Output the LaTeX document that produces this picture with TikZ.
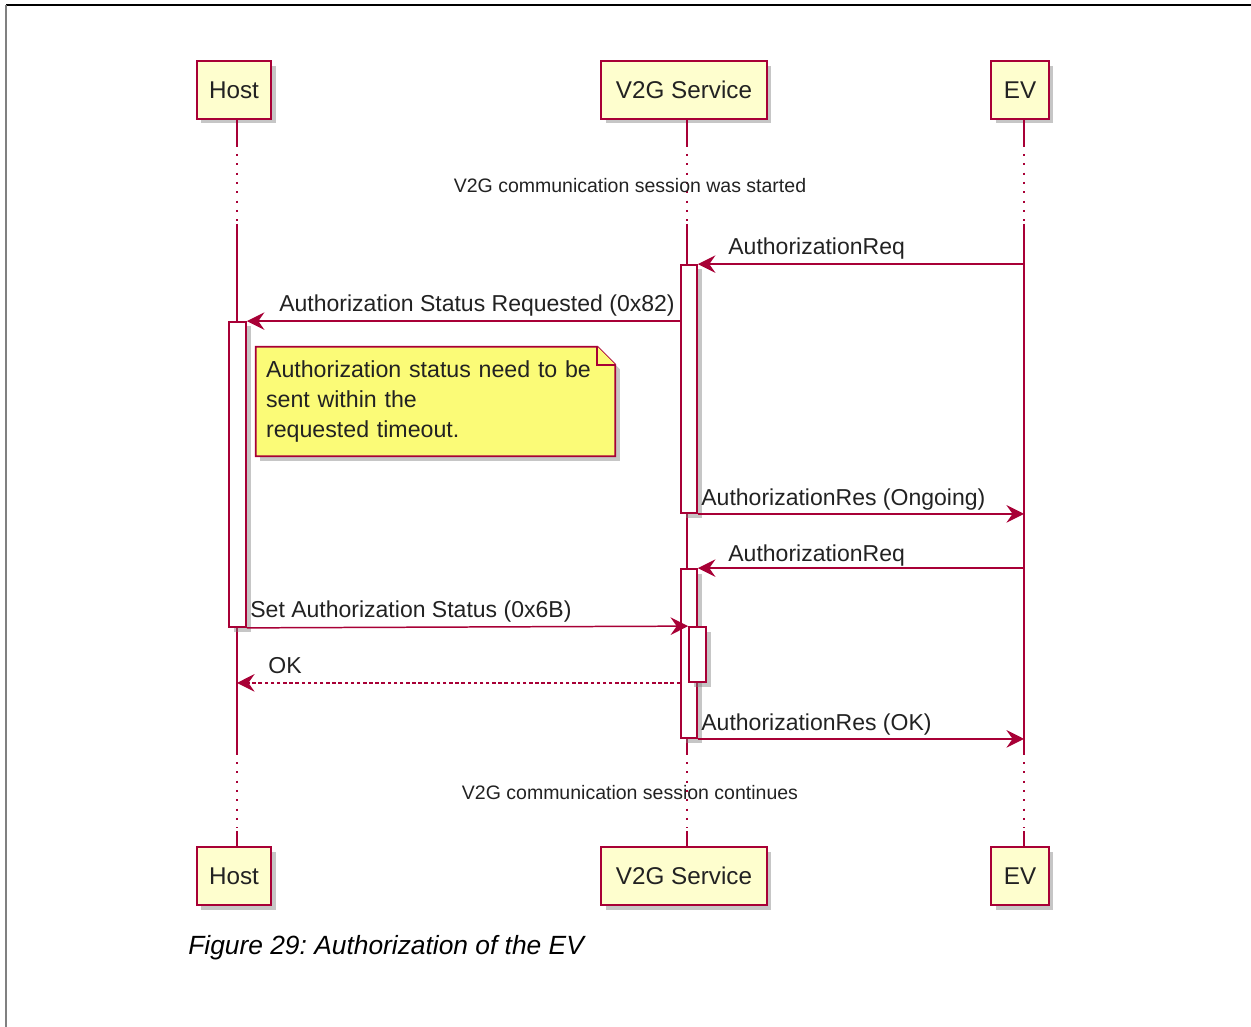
\documentclass[tikz,border=0pt]{standalone}
\usepackage{fontspec}
\setmainfont{Liberation Sans}
\usetikzlibrary{positioning}
\usetikzlibrary{shadows}
\usetikzlibrary{fit}
\usetikzlibrary{backgrounds}
\usetikzlibrary{arrows.meta}
\definecolor{umlred}{HTML}{A80036}
\definecolor{umlbox}{HTML}{FEFECE}
\definecolor{umlnote}{HTML}{FBFB77}
\definecolor{umltext}{HTML}{222222}
\frenchspacing
\tikzset{
    Shade/.style = {drop shadow={shadow xshift=0.09cm, shadow yshift=-0.09cm, fill=black!50, opacity=0.45}}
}
\tikzset{
    Part/.style = {rectangle, draw=umlred, fill=umlbox, line width=1.1pt, text=umltext,
        minimum height=1.16cm, inner xsep=0.25cm, font=\fontsize{13.8}{16}\selectfont, Shade}
}
\tikzset{
    Msg/.style = {draw=umlred, line width=0.85pt, -{Stealth[length=10pt,width=10pt,inset=3.5pt]}}
}

\begin{document}
\begin{tikzpicture}[
    x=0.02cm, y=-0.02cm,
    font=\fontsize{13.1}{15}\selectfont
]
\tikzset{
    Act/.style = {rectangle, draw=umlred, fill=white, line width=1pt, inner sep=0pt, Shade},
    Life/.style = {draw=umlred, line width=0.85pt},
    Dots/.style = {Life, dash pattern=on 1.2pt off 4.1pt},
    Lbl/.style = {anchor=base west, inner sep=0pt, text=umltext},
    Div/.style = {inner sep=0pt, text=umltext, font=\fontsize{11.1}{13}\selectfont},
    NoteTxt/.style = {align=left, text width=6.78cm, inner xsep=0.2cm, inner ysep=0pt,
        minimum width=7.18cm, minimum height=2.18cm, text=umltext, font=\fontsize{13.2}{17}\selectfont},
    NoteBox/.style = {draw=umlred, fill=umlnote, line width=1pt}
}
\useasboundingbox (0,0) rectangle (1251,1027);
\draw[line width=0.9pt] (6,5) -- (1251,5);
\draw[gray, line width=1.3pt] (6,5) -- (6,1027);

\node[Part] at (234,90) (Thost) {Host};
\node[Part, minimum width=3.32cm] at (684,90) (Tv2g) {V2G Service};
\node[Part] at (1020,90) (Tev) {EV};
\node[Part] at (234,876) (Bhost) {Host};
\node[Part, minimum width=3.32cm] at (684,876) (Bv2g) {V2G Service};
\node[Part] at (1020,876) (Bev) {EV};

\coordinate (Lhost) at (237,0);
\coordinate (Lv2g) at (687,0);
\coordinate (Lev) at (1024,0);

\foreach \n in {host, v2g, ev} {
    \draw[Life] (L\n |- T\n.south) -- (L\n |- 0,147);
    \draw[Dots] (L\n |- 0,154) -- (L\n |- 0,222);
    \draw[Life] (L\n |- 0,224) -- (L\n |- 0,755);
    \draw[Dots] (L\n |- 0,762) -- (L\n |- 0,828);
    \draw[Life] (L\n |- 0,831) -- (L\n |- B\n.north);
}

\node[Div] at (630,186) (d1) {V2G communication session was started};
\node[Div] at (630,793) (d2) {V2G communication session continues};

\node[Act, fit={(681,265) (697,513)}] (actA) {};
\node[Act, fit={(229,322) (246,627)}] (actH) {};
\node[Act, fit={(681,569) (697,738)}] (actB) {};
\node[Act, fit={(689,627) (706,682)}] (actC) {};

\draw[Msg] (Lev |- actA.north) -- (actA.north east);
\draw[Msg] (actA.west |- actH.north) -- (actH.north east);
\draw[Msg] (actA.south east) -- (Lev |- actA.south);
\draw[Msg] (Lev |- actB.north) -- (actB.north east);
\draw[Msg] (actH.south east) -- (actC.north west);
\draw[Msg, dash pattern=on 2pt off 1.5pt] (actB.west |- actC.south) -- (Lhost |- actC.south);
\draw[Msg] (actB.south east) -- (Lev |- actB.south);

\node[Lbl] at (728,255) (m1) {AuthorizationReq};
\node[Lbl, anchor=base east] at (675,312) (m2) {Authorization Status Requested (0x82)};
\node[Lbl] at (701,505) (m3) {AuthorizationRes (Ongoing)};
\node[Lbl] at (728,561) (m4) {AuthorizationReq};
\node[Lbl] at (250,617) (m5) {Set Authorization Status (0x6B)};
\node[Lbl] at (268,673) (m6) {OK};
\node[Lbl] at (701,730) (m7) {AuthorizationRes (OK)};

\node[NoteTxt] at (435.5,401.5) (note) {Authorization status need to be\\sent within the\\requested timeout.};
\begin{scope}[on background layer]
\draw[NoteBox, Shade] (note.north west) -- ([xshift=-0.36cm]note.north east)
    -- ([yshift=-0.36cm]note.north east) -- (note.south east) -- (note.south west) -- cycle;
\draw[NoteBox] ([xshift=-0.36cm]note.north east) -- ([xshift=-0.36cm,yshift=-0.36cm]note.north east)
    -- ([yshift=-0.36cm]note.north east);
\end{scope}

\node[anchor=base west, inner sep=0pt, font=\itshape\fontsize{15}{18}\selectfont] at (188,954) (cap) {Figure 29: Authorization of the EV};
\end{tikzpicture}
\end{document}
